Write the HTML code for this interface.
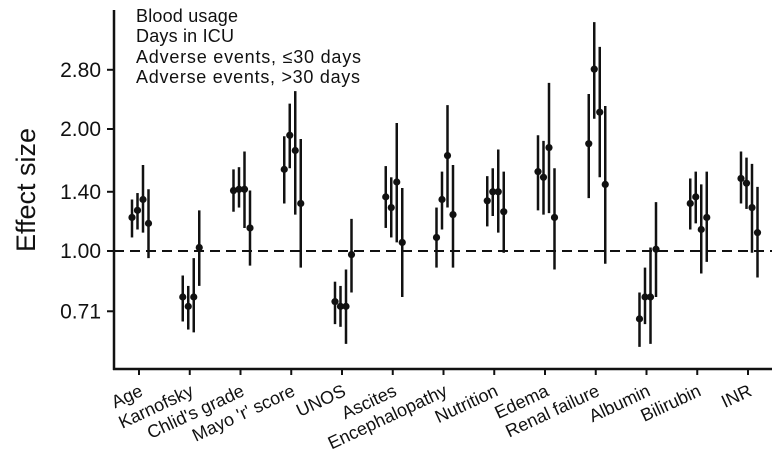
<!DOCTYPE html>
<html><head><meta charset="utf-8"><style>
html,body{margin:0;padding:0;background:#fff;}
svg{display:block;font-family:"Liberation Sans",Arial,sans-serif;}
</style></head><body>
<svg id="chart" width="784" height="474" viewBox="0 0 784 474">
<g id="axes"></g>
<g id="marks"></g>
<g font-size="18" fill="#111">
<text x="136" y="22" textLength="102">Blood usage</text>
<text x="136" y="42" textLength="98">Days in ICU</text>
<text x="136" y="63" textLength="225">Adverse events, ≤30 days</text>
<text x="136" y="83" textLength="224">Adverse events, &gt;30 days</text>
</g>
<text x="0" y="0" transform="translate(35,190) rotate(-90)" text-anchor="middle" font-size="27" fill="#111">Effect size</text>
</svg>
<script>
const categories=["Age","Karnofsky","Chlid's grade","Mayo 'r' score","UNOS","Ascites","Encephalopathy","Nutrition","Edema","Renal failure","Albumin","Bilirubin","INR"];
const yTicks=[0.71,1.00,1.40,2.00,2.80];
const yTickLabels=["0.71","1.00","1.40","2.00","2.80"];
const blood=[1.21,0.77,1.41,1.59,0.75,1.36,1.08,1.33,1.57,1.84,0.68,1.31,1.51];
const bloodLo=[1.08,0.67,1.25,1.31,0.66,1.14,0.91,1.15,1.26,1.35,0.58,1.13,1.31];
const bloodHi=[1.34,0.87,1.59,1.92,0.84,1.62,1.28,1.53,1.93,2.44,0.79,1.51,1.76];
const icu=[1.26,0.73,1.42,1.93,0.73,1.28,1.34,1.40,1.52,2.81,0.77,1.36,1.47];
const icuLo=[1.13,0.64,1.28,1.60,0.65,1.08,1.13,1.22,1.23,2.12,0.66,1.17,1.27];
const icuHi=[1.39,0.82,1.61,2.31,0.82,1.52,1.57,1.60,1.87,3.67,0.91,1.57,1.70];
const aeShort=[1.34,0.77,1.42,1.77,0.73,1.48,1.72,1.40,1.80,2.20,0.77,1.13,1.28];
const aeShortLo=[1.11,0.63,1.14,1.23,0.59,1.05,1.28,1.11,1.24,1.52,0.59,0.88,0.99];
const aeShortHi=[1.63,0.96,1.76,2.48,0.90,2.07,2.29,1.78,2.60,3.19,1.02,1.46,1.64];
const aeLong=[1.17,1.02,1.14,1.31,0.98,1.05,1.23,1.25,1.21,1.46,1.01,1.21,1.11];
const aeLongLo=[0.96,0.82,0.92,0.91,0.79,0.77,0.91,0.99,0.90,0.93,0.77,0.94,0.86];
const aeLongHi=[1.42,1.26,1.41,1.89,1.20,1.43,1.63,1.57,1.60,2.28,1.32,1.57,1.44];

const NS="http://www.w3.org/2000/svg";
const X0=114,X1=772,YB=369,YT=10;
function xCat(i){return 139+i*50.75;}
function yVal(v){return 251-Math.log(v)*176;}
function mk(tag,attrs,parent){const e=document.createElementNS(NS,tag);for(const k in attrs)e.setAttribute(k,attrs[k]);parent.appendChild(e);return e;}
const axes=document.getElementById('axes'),marks=document.getElementById('marks');
let e=mk('line',{x1:X0,y1:YT,x2:X0,y2:YB+1,stroke:'#111','stroke-width':2.5},axes);


e=mk('line',{x1:X0-1,y1:YB,x2:X1,y2:YB,stroke:'#111','stroke-width':2.5},axes);


yTicks.forEach((t,i)=>{
  const y=yVal(t);
  let l=mk('line',{x1:X0-7,y1:y,x2:X0,y2:y,stroke:'#111','stroke-width':2},axes);
  
  
  let tx=mk('text',{x:X0-13,y:y+7,'text-anchor':'end','font-size':21,fill:'#111'},axes);
  tx.textContent=yTickLabels[i];
  
  
});
e=mk('line',{x1:X0,y1:yVal(1),x2:X1,y2:yVal(1),stroke:'#111','stroke-width':2,'stroke-dasharray':'10,6'},axes);


categories.forEach((c,i)=>{
  const x=xCat(i);
  let l=mk('line',{x1:x,y1:YB,x2:x,y2:YB+6,stroke:'#111','stroke-width':2},axes);
  
  
  let tx=mk('text',{x:0,y:0,'text-anchor':'end','font-size':18,fill:'#111',transform:`translate(${x+5},395) rotate(-25)`},axes);
  tx.textContent=c;
  
  
});
const series=[[blood,bloodLo,bloodHi,-7,'blood-usage'],[icu,icuLo,icuHi,-1.5,'days-in-icu'],[aeShort,aeShortLo,aeShortHi,4,'adverse-short'],[aeLong,aeLongLo,aeLongHi,9.5,'adverse-long']];
series.forEach(([est,lo,hi,off,nm])=>{
  est.forEach((v,i)=>{
    const x=xCat(i)+off;
    let l=mk('line',{x1:x,y1:yVal(lo[i]),x2:x,y2:yVal(hi[i]),stroke:'#111','stroke-width':2.5},marks);
    
    
    let c=mk('circle',{cx:x,cy:yVal(v),r:3.6,fill:'#111'},marks);
    
    
  });
});
</script>
</body></html>
